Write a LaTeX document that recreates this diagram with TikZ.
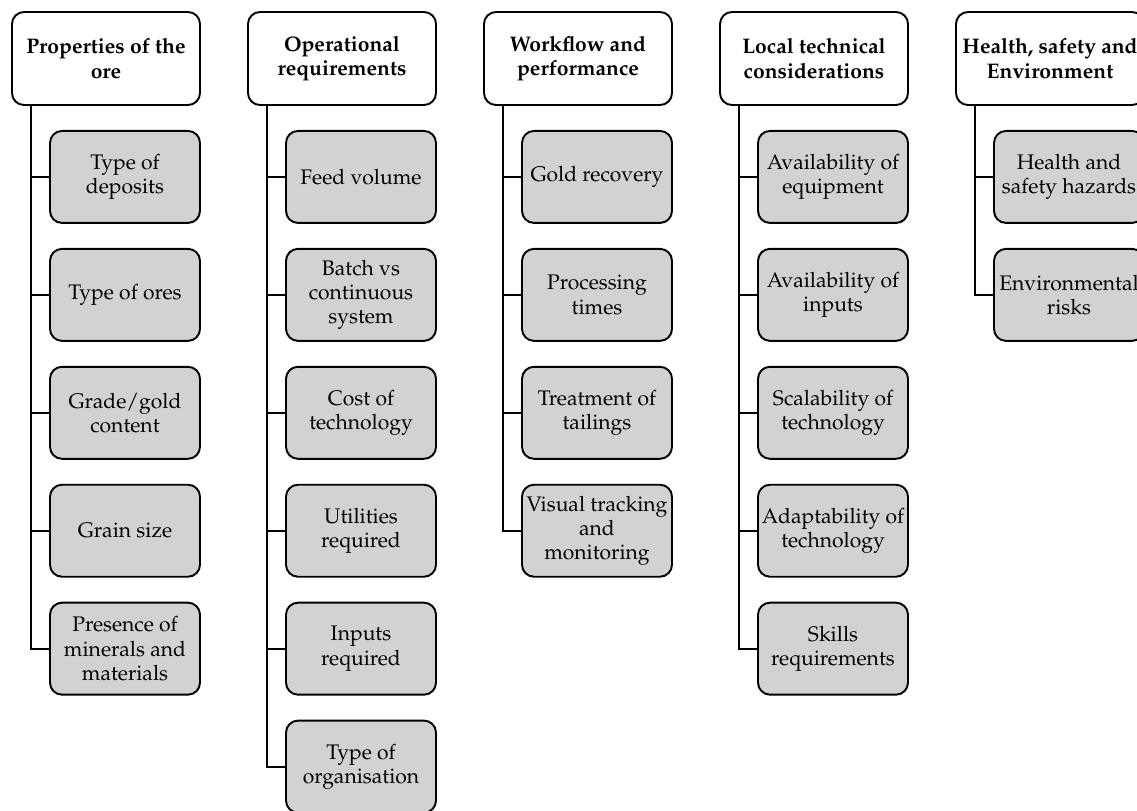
\documentclass[tikz,border=0pt]{standalone}
\usepackage[T1]{fontenc}
\usepackage{mathpazo}
\usepackage{tikz}
\usetikzlibrary{positioning}
\definecolor{boxgray}{HTML}{D2D2D2}

\begin{document}
\begin{tikzpicture}[
  node distance=0.48cm,
  font=\fontsize{12}{13.8}\selectfont,
  head/.style={draw,line width=1.1pt,rounded corners=0.24cm,fill=white,
    minimum width=3.76cm,minimum height=1.86cm,align=center,font=\fontsize{12}{13.8}\selectfont\bfseries},
  item/.style={draw,line width=1.1pt,rounded corners=0.24cm,fill=boxgray,
    minimum width=3.0cm,minimum height=1.84cm,align=center,inner sep=2pt},
  link/.style={line width=1.1pt}]
  \useasboundingbox (0,0) rectangle (22.74,-16.22);

  % column headers
  \node[head] (ore) at (2.12,-1.17) {Properties of the\\ore};
  \node[head] (ops) at (6.84,-1.17) {Operational\\requirements};
  \node[head] (flow) at (11.56,-1.17) {Workflow and\\performance};
  \node[head] (local) at (16.28,-1.17) {Local technical\\considerations};
  \node[head] (hse) at (21.00,-1.17) {Health, safety and\\Environment};

  % properties of the ore
  \node[item,below=of ore.south east,anchor=north east] (ore1) {Type of\\deposits};
  \node[item,below=of ore1] (ore2) {Type of ores};
  \node[item,below=of ore2] (ore3) {Grade/gold\\content};
  \node[item,below=of ore3] (ore4) {Grain size};
  \node[item,below=of ore4] (ore5) {Presence of\\minerals and\\materials};

  % operational requirements
  \node[item,below=of ops.south east,anchor=north east] (ops1) {Feed volume};
  \node[item,below=of ops1] (ops2) {Batch vs\\continuous\\system};
  \node[item,below=of ops2] (ops3) {Cost of\\technology};
  \node[item,below=of ops3] (ops4) {Utilities\\required};
  \node[item,below=of ops4] (ops5) {Inputs\\required};
  \node[item,below=of ops5] (ops6) {Type of\\organisation};

  % workflow and performance
  \node[item,below=of flow.south east,anchor=north east] (flow1) {Gold recovery};
  \node[item,below=of flow1] (flow2) {Processing\\times};
  \node[item,below=of flow2] (flow3) {Treatment of\\tailings};
  \node[item,below=of flow3] (flow4) {Visual tracking\\and\\monitoring};

  % local technical considerations
  \node[item,below=of local.south east,anchor=north east] (local1) {Availability of\\equipment};
  \node[item,below=of local1] (local2) {Availability of\\inputs};
  \node[item,below=of local2] (local3) {Scalability of\\technology};
  \node[item,below=of local3] (local4) {Adaptability of\\technology};
  \node[item,below=of local4] (local5) {Skills\\requirements};

  % health, safety and environment
  \node[item,below=of hse.south east,anchor=north east] (hse1) {Health and\\safety hazards};
  \node[item,below=of hse1] (hse2) {Environmental\\risks};

  % trunks and ticks
  \foreach \h/\n in {ore/5,ops/6,flow/4,local/5,hse/2}{
    \coordinate (\h-t) at ([xshift=0.39cm]\h.south west);
    \foreach \k in {1,...,\n}
      \draw[link] (\h-t) |- (\h\k.west);
  }
\end{tikzpicture}
\end{document}
